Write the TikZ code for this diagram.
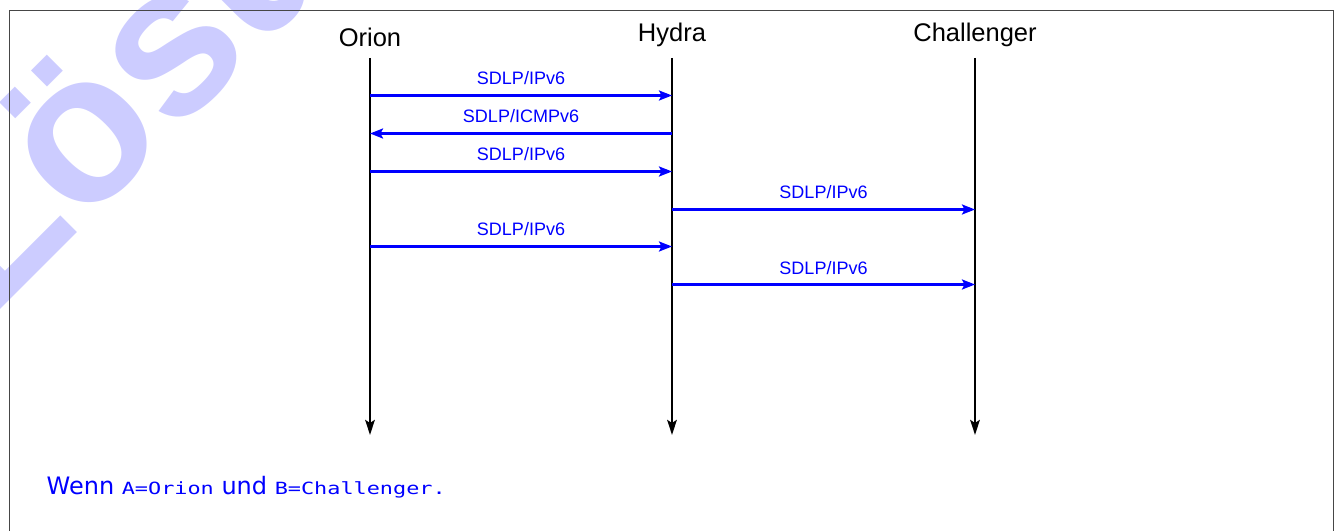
\documentclass[tikz,border=0pt]{standalone}
\usepackage{fontspec}
\setmainfont{Liberation Sans}
\newfontfamily\wmfont{Liberation Sans}
\newfontfamily\notefont{DejaVu Sans}
\newfontfamily\codefont[FakeStretch=1.3]{DejaVu Sans Mono}
\usetikzlibrary{arrows.meta}
\definecolor{wmcolor}{RGB}{204,204,255}
\definecolor{framecolor}{RGB}{70,70,70}
\tikzset{
  watermark/.style={text=wmcolor, inner sep=0pt, font=\wmfont\fontsize{212bp}{212bp}\selectfont\bfseries},
  framebox/.style={draw=framecolor, line width=1.2bp},
  actor/.style={anchor=south, inner sep=0pt, font=\fontsize{25.5bp}{30bp}\selectfont},
  lifeline/.style={draw=black, line width=2.6bp, -{Stealth[length=15bp,width=9.5bp,inset=3bp]}},
  msg/.style={draw=blue, line width=2.4bp, -{Stealth[length=13bp,width=10bp,inset=2.5bp]}},
  msglabel/.style={midway, anchor=base, yshift=10.5bp, inner sep=0pt, text=blue, font=\fontsize{18bp}{21bp}\selectfont},
  note/.style={anchor=base west, inner sep=0pt, text=blue}
}
\newcommand{\codetxt}[1]{{\codefont\fontsize{16.8bp}{20bp}\selectfont #1}}
\begin{document}
\begin{tikzpicture}[x=1bp,y=-1bp]
\useasboundingbox (0,0) rectangle (1339,531);
\clip (0,0) rectangle (1339,531);
\node[watermark, anchor=base west, rotate=45] (wm) at (-10,320) {Lösung};
\draw[framebox] (9.5,10.5) rectangle (1333.5,560);
% actors
\node[actor] (orion) at (370,47) {Orion};
\node[actor] (hydra) at (672,47) {Hydra};
\node[actor] (chall) at (975,47) {Challenger};
% lifeline ends
\coordinate (top) at (0,58);
\coordinate (bot) at (0,435);
\draw[lifeline] (orion |- top) -- (orion |- bot);
\draw[lifeline] (hydra |- top) -- (hydra |- bot);
\draw[lifeline] (chall |- top) -- (chall |- bot);
% messages
\coordinate (m1) at (0,95.5);
\coordinate (m2) at (0,133.5);
\coordinate (m3) at (0,171.5);
\coordinate (m4) at (0,209.5);
\coordinate (m5) at (0,246.5);
\coordinate (m6) at (0,284.5);
\draw[msg] (orion |- m1) -- (hydra |- m1) node[msglabel] {SDLP/IPv6};
\draw[msg] (hydra |- m2) -- (orion |- m2) node[msglabel] {SDLP/ICMPv6};
\draw[msg] (orion |- m3) -- (hydra |- m3) node[msglabel] {SDLP/IPv6};
\draw[msg] (hydra |- m4) -- (chall |- m4) node[msglabel] {SDLP/IPv6};
\draw[msg] (orion |- m5) -- (hydra |- m5) node[msglabel] {SDLP/IPv6};
\draw[msg] (hydra |- m6) -- (chall |- m6) node[msglabel] {SDLP/IPv6};
% note
\node[note] (cond) at (46.5,494) {\notefont\fontsize{24bp}{28bp}\selectfont Wenn \codetxt{A=Orion} und \codetxt{B=Challenger.}};
\end{tikzpicture}
\end{document}
